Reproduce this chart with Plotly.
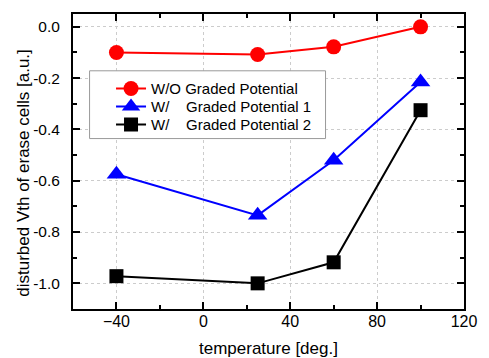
import plotly.graph_objects as go

temps = [-40, 25, 60, 100]
wo_graded = [-0.10, -0.108, -0.078, 0.0]
graded_1 = [-0.575, -0.735, -0.52, -0.215]
graded_2 = [-0.972, -1.0, -0.918, -0.325]

names = ["W/O Graded Potential", "W/    Graded Potential 1", "W/    Graded Potential 2"]
colors = ["#ff0000", "#0000ff", "#000000"]
symbols = ["circle", "triangle-up", "square"]
msizes = [15, 17, 14]

x_ticks = [-40, 0, 40, 80, 120]
y_ticks = [0, -0.2, -0.4, -0.6, -0.8, -1.0]
y_ticktext = ["0.0", "-0.2", "-0.4", "-0.6", "-0.8", "-1.0"]

FONT = "Liberation Sans, Arial"

legend_ids = ["legend", "legend2", "legend3"]
row_px = [88, 106, 124]

fig = go.Figure()
for ys, n, c, s, ms, lg in zip([wo_graded, graded_1, graded_2], names, colors, symbols, msizes, legend_ids):
    fig.add_trace(go.Scatter(x=temps, y=ys, name=n, mode="lines+markers",
                             line=dict(color=c, width=2),
                             marker=dict(color=c, symbol=s, size=ms),
                             legend=lg))

axis_common = dict(showline=True, linecolor="black", linewidth=2, mirror="ticks",
                   ticks="inside", ticklen=7, tickwidth=1.5, tickcolor="black",
                   showgrid=True, gridcolor="#cccccc", griddash="dot", gridwidth=1,
                   zeroline=False,
                   minor=dict(ticks="inside", ticklen=4, tickcolor="black", showgrid=False))

fig.update_xaxes(range=[-60, 120], tickvals=x_ticks, minor_dtick=20,
                 tickfont=dict(family=FONT, size=16, color="black"),
                 ticklabelstandoff=-3,
                 **axis_common)
fig.update_yaxes(range=[-1.1, 0.05], tickvals=y_ticks, ticktext=y_ticktext,
                 minor_dtick=0.1,
                 tickfont=dict(family=FONT, size=15.5, color="black"),
                 ticklabelstandoff=8,
                 **axis_common)

fig.add_annotation(text="temperature [deg.]", xref="paper", yref="paper",
                   x=0.5, y=-0.135, xanchor="center", yanchor="middle", showarrow=False,
                   font=dict(family=FONT, size=17, color="black"))
fig.add_annotation(text="disturbed Vth of erase cells [a.u.]", xref="paper", yref="paper",
                   x=-0.127, y=0.463, xanchor="center", yanchor="middle", showarrow=False,
                   textangle=-90, font=dict(family=FONT, size=17, color="black"))

# legend box
fig.add_shape(type="rect", xref="paper", yref="paper",
              x0=(90 - 73) / 401, x1=(332 - 73) / 401,
              y0=(309 - 138) / 296, y1=(309 - 70) / 296,
              line=dict(color="#999999", width=1), fillcolor="white", layer="above")

layout_legends = {}
for lg, py in zip(legend_ids, row_px):
    layout_legends[lg] = dict(x=(112 - 73) / 401, y=(309 - py) / 296,
                              xanchor="left", yanchor="middle",
                              bgcolor="rgba(0,0,0,0)", borderwidth=0,
                              font=dict(family=FONT, size=15, color="black"),
                              itemwidth=30)

fig.update_layout(width=489, height=358, margin=dict(l=73, r=15, t=13, b=49),
                  paper_bgcolor="white", plot_bgcolor="white",
                  showlegend=True, **layout_legends)

fig.write_html("out.html")
